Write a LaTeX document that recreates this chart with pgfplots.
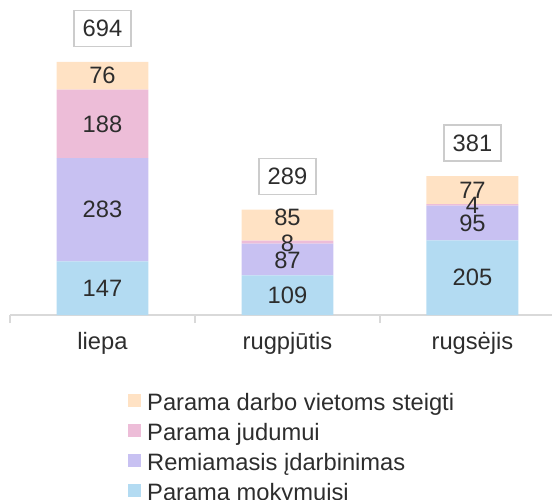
\documentclass[border=0pt]{standalone}
\usepackage{fontspec}
\setmainfont{Liberation Sans}
\usepackage{pgfplots}
\pgfplotsset{compat=1.18}
\definecolor{cPeach}{RGB}{255,226,196}
\definecolor{cPink}{RGB}{237,189,216}
\definecolor{cLav}{RGB}{200,193,242}
\definecolor{cBlue}{RGB}{179,219,242}
\definecolor{cText}{RGB}{45,45,45}
\definecolor{cAxis}{RGB}{217,217,217}
\definecolor{cBox}{RGB}{204,204,204}
\newcommand{\fs}{\fontsize{23.7}{28}\selectfont}
\begin{document}
\begin{tikzpicture}
\path[use as bounding box, clip] (0pt,0pt) rectangle (552pt,499pt);
\pgfplotsset{common/.style={
  at={(10pt,184pt)}, anchor=south west, scale only axis,
  width=542pt, height=315pt, xmin=-0.5, xmax=2.43, ymin=0, ymax=864,
  enlargelimits=false, clip=false}}
\begin{axis}[common,
  ybar stacked, bar width=0.497,
  axis x line*=bottom, axis y line=none,
  x axis line style={draw=cAxis, line width=1.5pt, -},
  xtick={0,1,2}, xticklabels={liepa, rugpjūtis, rugsėjis},
  xtick style={draw=none},
  xticklabel style={font=\fs, text=cText, anchor=base, yshift=-34pt},
  extra x ticks={-0.5,0.5,1.5}, extra x tick labels={},
  extra x tick style={tick align=outside, major tick length=8pt,
     xtick style={draw=cAxis, line width=1.5pt}},
  legend cell align=left, reverse legend,
  legend style={at={(0.2177,-0.247)}, anchor=north west, draw=none, fill=none,
     inner sep=0pt, font=\fs, text=cText, row sep=8pt, column sep=6pt,
     nodes={inner sep=0pt, text height=17pt, text depth=5pt}},
  legend image code/.code={\fill[#1] (0pt,-3.3pt) rectangle (13pt,9.7pt);},
]
\addplot[fill=cBlue, draw=none] coordinates {(0,147) (1,109) (2,205)};
\addlegendentry{Parama mokymuisi}
\addplot[fill=cLav, draw=none] coordinates {(0,283) (1,87) (2,95)};
\addlegendentry{Remiamasis įdarbinimas}
\addplot[fill=cPink, draw=none] coordinates {(0,188) (1,8) (2,4)};
\addlegendentry{Parama judumui}
\addplot[fill=cPeach, draw=none] coordinates {(0,76) (1,85) (2,77)};
\addlegendentry{Parama darbo vietoms steigti}
\end{axis}
\begin{axis}[common, hide axis]
\addplot[draw=none, mark=none, nodes near coords, point meta=explicit symbolic,
  every node near coord/.style={anchor=center, font=\fs, text=cText}]
 coordinates {(0,73.5)[147] (0,288.5)[283] (0,524)[188] (0,656)[76]
  (1,54.5)[109] (1,149)[87] (1,197)[8] (1,268)[85]
  (2,102.5)[205] (2,252.5)[95] (2,302)[4] (2,342.5)[77]};
\addplot[draw=none, mark=none, nodes near coords, point meta=explicit symbolic,
  every node near coord/.style={anchor=south, yshift=14.5pt, draw=cBox,
    line width=1.5pt, minimum width=57pt, minimum height=36pt, font=\fs, text=cText}]
 coordinates {(0,694)[694] (1,289)[289] (2,381)[381]};
\end{axis}
\end{tikzpicture}
\end{document}
